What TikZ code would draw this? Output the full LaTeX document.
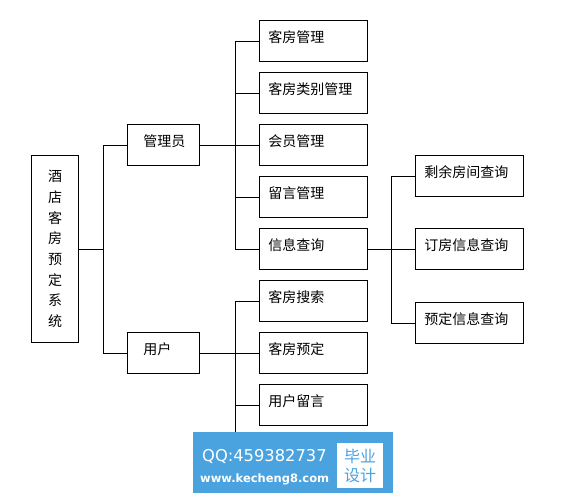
\documentclass[tikz,border=0pt]{standalone}
\usepackage{fontspec}
\usepackage{xcolor}
\usepackage{tikz}
\newfontfamily\cjk{Noto Sans CJK SC}
\newfontfamily\wmfont{DejaVu Sans}
\definecolor{wmblue}{HTML}{4AA3DF}

\begin{document}
\begin{tikzpicture}[x=1pt,y=-1pt]
\tikzset{box/.style={draw, line width=0.8pt, anchor=north west, inner ysep=0pt, inner xsep=9pt,
  text width=90pt, align=left, text height=22pt, text depth=19pt, font=\cjk\fontsize{14}{16}\selectfont},
  rolebox/.style={box, inner xsep=16pt, text width=40pt},
  link/.style={line width=0.8pt}}
\useasboundingbox (0,0) rectangle (586,498);
% the root
\node [draw, line width=0.8pt, minimum width=47pt, minimum height=187pt, inner sep=0pt, align=center,
  font=\cjk\fontsize{14}{20.7}\selectfont] (root) at (55,249)
  {酒\\店\\客\\房\\预\\定\\系\\统};
% the two roles
\node [rolebox] (admin) at (127,124) {管理员};
\node [rolebox] (user) at (127,332) {用户};
% the functions -- middle column
\foreach \i/\t in {1/客房管理, 2/客房类别管理, 3/会员管理, 4/留言管理, 5/信息查询,
  6/客房搜索, 7/客房预定, 8/用户留言} {
\node [box] (m\i) at (259,{20+52*(\i-1)}) {\t};
}
% the queries -- right column
\foreach \i/\y/\t in {1/155/剩余房间查询, 2/228/订房信息查询, 3/302/预定信息查询} {
\node [box] (q\i) at (415,\y) {\t};
}
% Draw the connectors
\draw [link] (root.east) -- ++(24,0) |- (admin.west);
\draw [link] (root.east) -- ++(24,0) |- (user.west);
\foreach \i in {1,...,5} { \draw [link] (admin.east) -- ++(36,0) |- (m\i.west); }
\foreach \i in {6,7,8} { \draw [link] (user.east) -- ++(36,0) |- (m\i.west); }
\coordinate (more) at (235,450);
\draw [link] (user.east) -| (more);
\foreach \i in {1,2,3} { \draw [link] (m5.east) -- ++(24,0) |- (q\i.west); }
% the stamp
\fill [wmblue] (193,432) rectangle (393,493);
\fill [white] (337,443) rectangle (383,488);
\node [anchor=west, inner sep=0pt, text=white, font=\wmfont\fontsize{16.3}{18}\selectfont] (qq) at (202,456) {QQ:459382737};
\node [anchor=west, inner sep=0pt, text=white, font=\wmfont\bfseries\fontsize{11.5}{14}\selectfont] (web) at (200,479) {www.kecheng8.com};
\node [align=center, inner sep=0pt, text=wmblue, font=\cjk\fontsize{16}{19}\selectfont] (grad) at (360,466) {毕业\\设计};
\end{tikzpicture}
\end{document}
